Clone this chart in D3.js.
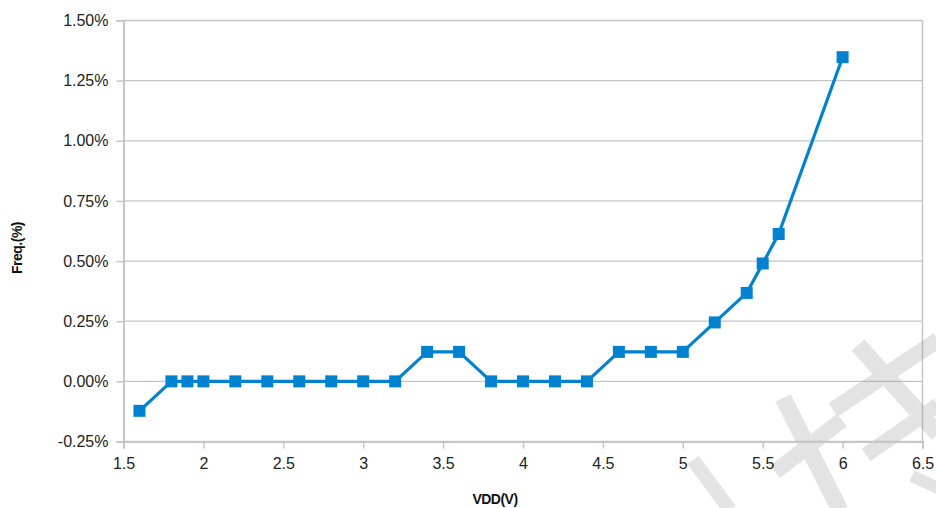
<!DOCTYPE html>
<html><head><meta charset="utf-8">
<script src="https://cdn.jsdelivr.net/npm/d3@7"></script>
<style>body{margin:0;background:#fff}svg{display:block}text{font-family:"Liberation Sans",Arial,sans-serif}</style>
</head><body><svg id="c" width="936" height="508"></svg>
<script>
const vdd = [1.6,1.8,1.9,2.0,2.2,2.4,2.6,2.8,3.0,3.2,3.4,3.6,3.8,4.0,4.2,4.4,4.6,4.8,5.0,5.2,5.4,5.5,5.6,6.0];
const freq = [-0.1225,0,0,0,0,0,0,0,0,0,0.1225,0.1225,0,0,0,0,0.1225,0.1225,0.1225,0.245,0.3675,0.49,0.6125,1.3475];
const xTicks = [1.5,2,2.5,3,3.5,4,4.5,5,5.5,6,6.5];
const yTicks = [-0.25,0,0.25,0.5,0.75,1.0,1.25,1.5];
const xTitle = "VDD(V)", yTitle = "Freq.(%)";

const svg = d3.select("#c");
const L=123.5,R=922.5,T=20.5,B=441.5;
const x = d3.scaleLinear().domain([1.5,6.5]).range([L,R]);
const y = d3.scaleLinear().domain([-0.25,1.5]).range([B,T]);

// gridlines
svg.append("g").selectAll("line").data(yTicks).join("line")
  .attr("x1",L).attr("x2",R).attr("y1",d=>y(d)).attr("y2",d=>y(d))
  .attr("stroke","#c6c6c6").attr("stroke-width",1.3);
svg.append("line").attr("x1",R).attr("x2",R).attr("y1",T).attr("y2",B).attr("stroke","#c6c6c6").attr("stroke-width",1.5);

const yAxis = svg.append("g").attr("transform",`translate(${L},0)`)
  .call(d3.axisLeft(y).tickValues(yTicks).tickSize(7).tickPadding(8).tickFormat(d=>d3.format(".2f")(d).replace("\u2212","-")+"%"));
const xAxis = svg.append("g").attr("transform",`translate(0,${B})`)
  .call(d3.axisBottom(x).tickValues(xTicks).tickSize(7).tickPadding(9).tickFormat(d=>String(d)));
[yAxis,xAxis].forEach(a=>{
  a.select(".domain").attr("stroke","#c6c6c6").attr("stroke-width",2);
  a.selectAll(".tick line").attr("stroke","#c6c6c6").attr("stroke-width",1.5);
  a.selectAll("text").attr("fill","#222").style("font-size","16px");
});

// watermark approximation (uniform semi-transparent layer over grid)
const wm = svg.append("g").attr("opacity",0.2).attr("stroke","#7a7a7a").attr("stroke-linecap","butt").attr("fill","none");
[[693,460,730,510,14],[783,398,840,510,17],[775,472,842,420,16],[858,345,938,434,17],
 [833,410,938,340,16],[866,455,938,405,15],[912,476,938,488,12]].forEach(s=>{
  wm.append("line").attr("x1",s[0]).attr("y1",s[1]).attr("x2",s[2]).attr("y2",s[3]).attr("stroke-width",s[4]);
});
xAxis.raise();

const pts = vdd.map((v,i)=>[v,freq[i]]);
svg.append("path").datum(pts)
  .attr("d",d3.line().x(d=>x(d[0])).y(d=>y(d[1])))
  .attr("fill","none").attr("stroke","#0082d0").attr("stroke-width",3.2).attr("stroke-linejoin","round");
const s=12;
svg.append("g").selectAll("rect").data(pts).join("rect")
  .attr("x",d=>x(d[0])-s/2).attr("y",d=>y(d[1])-s/2).attr("width",s).attr("height",s)
  .attr("fill","#0082d0");

svg.append("text").attr("x",495).attr("y",504).attr("text-anchor","middle")
  .attr("font-weight","bold").style("font-size","14px").attr("fill","#111").attr("letter-spacing","-0.5").text(xTitle);
svg.append("text").attr("transform","translate(22,248) rotate(-90)").attr("text-anchor","middle")
  .attr("font-weight","bold").style("font-size","14px").attr("fill","#111").attr("letter-spacing","-0.5").text(yTitle);
</script></body></html>
